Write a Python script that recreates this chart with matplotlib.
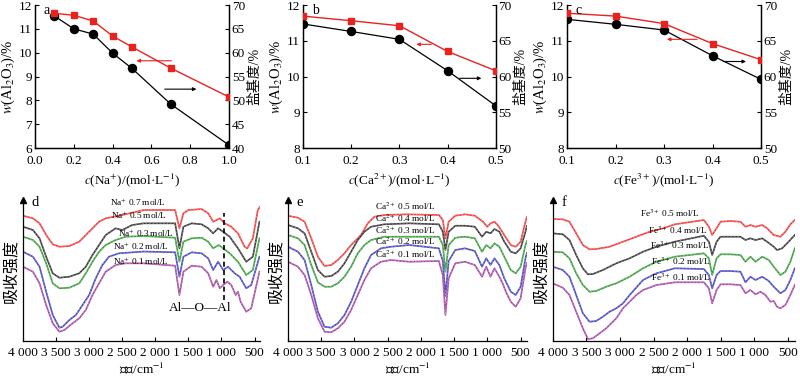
import numpy as np
import matplotlib
matplotlib.use('Agg')
import matplotlib.pyplot as plt

plt.rcParams['font.family'] = ['Liberation Serif', 'Noto Sans CJK SC']
plt.rcParams['mathtext.fontset'] = 'stix'
plt.rcParams['axes.unicode_minus'] = False
plt.rcParams['axes.linewidth'] = 0.9

# ---------------- top row data ----------------
a_c = [0.1, 0.2, 0.3, 0.4, 0.5, 0.7, 1.0]
a_w = [11.65, 11.57, 11.33, 10.70, 10.24, 9.35, 8.14]
a_b = [67.7, 65.0, 63.9, 59.9, 56.7, 49.2, 40.6]

b_c = [0.1, 0.2, 0.3, 0.4, 0.5]
b_w = [11.69, 11.56, 11.42, 10.70, 10.16]
b_b = [67.35, 66.3, 65.2, 60.8, 55.9]

c_c = [0.1, 0.2, 0.3, 0.4, 0.5]
c_w = [11.77, 11.69, 11.48, 10.92, 10.47]
c_b = [68.0, 67.3, 66.5, 62.9, 59.6]

# ---------------- bottom row data (relative absorbance, arbitrary units) ----------------
d_wn_07 = [4000, 3850, 3750, 3650, 3550, 3450, 3300, 3150, 3050, 2950, 2850, 2750, 2550, 2175,
           1700, 1635, 1575, 1500, 1300, 1200, 1125, 1075, 1025, 950, 850, 750, 650, 610, 525, 450, 420]
d_ab_07 = [125.3, 122.7, 117.7, 106, 96.7, 94.3, 95, 99.3, 106, 112.7, 119.3, 122.7, 125.3, 131,
           131, 112.7, 127.7, 131, 132, 127.7, 119.3, 121, 122.7, 117.7, 114.3, 107.7, 94.3, 92.7, 102.7, 131, 134]
d_wn_05 = [4000, 3850, 3750, 3650, 3550, 3450, 3300, 3150, 3050, 2950, 2850, 2750, 2600, 2500, 2350, 2175,
           1700, 1635, 1575, 1450, 1300, 1200, 1125, 1050, 975, 875, 750, 625, 525, 425]
d_ab_05 = [114.3, 111, 102.7, 84.3, 67.7, 63.3, 64.3, 67.7, 74.3, 86, 96, 106, 112.7, 111, 116, 117.7,
           117.7, 92.7, 114.3, 117.7, 116.7, 112.7, 107.7, 112.7, 109.3, 104.3, 92.7, 79.3, 84.3, 119.3]
d_wn_03 = [4000, 3850, 3750, 3650, 3550, 3450, 3300, 3150, 3050, 2950, 2850, 2750, 2600, 2450, 2175,
           1700, 1635, 1575, 1450, 1300, 1200, 1125, 1040, 975, 875, 750, 625, 525, 425]
d_ab_03 = [104.3, 101, 94.3, 77.7, 57.7, 52.7, 53.3, 57.7, 67.7, 79.3, 89.3, 96, 101, 104.3, 105,
           103.3, 79.3, 99.3, 102.7, 103.3, 99.3, 92.7, 96, 92.7, 87.7, 79.3, 66, 71, 102.7]
d_wn_02 = [4000, 3850, 3750, 3650, 3550, 3450, 3400, 3300, 3200, 3100, 3000, 2900, 2800, 2700, 2550, 2175,
           1700, 1635, 1575, 1450, 1300, 1200, 1125, 1050, 975, 900, 800, 725, 625, 550, 425]
d_ab_02 = [89.3, 84.3, 74.3, 49.3, 26, 13.3, 14.3, 21, 26, 36, 46, 62.7, 76, 84.3, 87.7, 89.5,
           88.7, 64.3, 84.3, 88.7, 87.7, 82.7, 71, 79.3, 71, 74.3, 67.7, 64.3, 52.7, 56, 84.3]
d_wn_01 = [4000, 3850, 3750, 3650, 3550, 3450, 3375, 3250, 3150, 3050, 2950, 2850, 2750, 2600, 2450, 2175,
           1700, 1635, 1575, 1450, 1300, 1200, 1125, 1075, 1025, 975, 910, 850, 785, 750, 710, 625, 550, 425]
d_ab_01 = [74.3, 69.3, 57.7, 36, 17.7, 9.3, 11, 17.7, 22.7, 31, 46, 57.7, 69.3, 76, 77.7, 77.7,
           75.3, 46, 69.3, 75.3, 74.3, 67.7, 54.3, 61, 52.7, 56, 59.3, 56, 46, 49.3, 39.3, 29.3, 32.7, 69.3]

e_wn_05 = [4000, 3850, 3750, 3650, 3550, 3450, 3350, 3250, 3150, 3050, 2950, 2900, 2800, 2700, 2550, 2221,
           1729, 1670, 1631, 1582, 1483, 1336, 1188, 1065, 1001, 952, 893, 844, 745, 647, 573, 499, 426, 405]
e_ab_05 = [125.3, 123.3, 119.3, 102.7, 84.3, 75, 76, 81, 87.7, 96, 102.7, 106, 117.7, 124.3, 126, 126.7,
           126, 121, 102.7, 119.3, 125.3, 126.7, 125.3, 119.3, 114.3, 117.7, 119.3, 116, 106, 96, 94.3, 99.3, 119.3, 124]
e_wn_04 = [4000, 3850, 3750, 3650, 3550, 3450, 3350, 3250, 3150, 3050, 2950, 2850, 2750, 2550, 2175,
           1729, 1670, 1631, 1582, 1483, 1336, 1188, 1080, 1016, 952, 893, 819, 745, 647, 573, 499, 426, 405]
e_ab_04 = [116, 112.7, 107.7, 89.3, 71, 64.3, 65, 69.3, 77.7, 89.3, 101, 109.3, 114.3, 116.7, 117.7,
           116.7, 109.3, 91, 109.3, 115.3, 115.3, 114.3, 104.3, 109.3, 107.7, 112, 109.3, 99.3, 89.3, 87.7, 92.7, 109.3, 115]
e_wn_03 = [4000, 3850, 3750, 3650, 3550, 3450, 3350, 3250, 3150, 3050, 2950, 2850, 2750, 2550, 2175,
           1729, 1670, 1631, 1582, 1483, 1336, 1188, 1080, 1016, 952, 893, 819, 745, 647, 573, 499, 426, 405]
e_ab_03 = [106, 102.7, 96, 76, 58.7, 54.3, 54.3, 57.7, 64.3, 74.3, 87.7, 96, 101, 104.3, 104.3,
           104.3, 96, 69.3, 96, 103.3, 104.3, 102.7, 89.3, 96, 92.7, 97.7, 94.3, 84.3, 71, 67.7, 74.3, 96, 100]
e_wn_02 = [4000, 3850, 3750, 3650, 3550, 3450, 3350, 3250, 3150, 3050, 2950, 2850, 2750, 2600, 2450, 2175,
           1729, 1670, 1631, 1582, 1483, 1336, 1188, 1080, 1016, 952, 893, 819, 745, 647, 573, 499, 426, 405]
e_ab_02 = [94.3, 89.3, 81, 56, 29.3, 14.3, 13.3, 17.7, 26, 39.3, 56, 72.7, 86, 92.7, 94.3, 96,
           92.7, 80, 45, 80, 91, 92.7, 90, 74.3, 82.7, 76, 82.7, 76, 62.7, 49.3, 46, 54.3, 82.7, 88]
e_wn_01 = [4000, 3850, 3750, 3650, 3550, 3450, 3350, 3250, 3150, 3050, 2950, 2850, 2750, 2600, 2450, 2175,
           1729, 1670, 1631, 1582, 1483, 1336, 1188, 1080, 1016, 952, 893, 819, 770, 721, 647, 573, 499, 426, 405]
e_ab_01 = [79.3, 74.3, 66, 46, 22.7, 9.3, 8.7, 12.7, 19.3, 31, 46, 61, 72.7, 79.3, 81, 79.3,
           80, 66, 26, 62.7, 77.7, 79.3, 76, 64.3, 74.3, 64.3, 72.7, 64.3, 57.7, 49.3, 39.3, 34.3, 42.7, 72.7, 78]

f_wn_05 = [4000, 3851, 3752, 3652, 3553, 3453, 3354, 3155, 2956, 2758, 2559, 2360, 2186,
           1752, 1678, 1629, 1564, 1505, 1357, 1208, 1134, 1060, 985, 886, 812, 713, 614, 540, 466, 400]
f_ab_05 = [122, 121.7, 119.3, 107.7, 96, 91.7, 92, 94.3, 99.3, 104.3, 109.3, 112.7, 116.7,
           121, 114.3, 106, 112.7, 119.3, 120, 119.3, 114.3, 116, 114.3, 116, 112.7, 106, 104.3, 109.3, 116.7, 121]
f_wn_04 = [4000, 3851, 3752, 3652, 3553, 3478, 3404, 3255, 3056, 2857, 2658, 2459, 2186,
           1752, 1678, 1629, 1564, 1505, 1357, 1208, 1134, 1060, 985, 886, 812, 713, 664, 589, 515, 400]
f_ab_04 = [107.7, 106.7, 101, 86, 72.7, 66.7, 67, 71, 77.7, 82.7, 89.3, 94.3, 99.3,
           105.3, 99.3, 86, 99.3, 104.3, 104.3, 104.3, 101, 102.7, 101, 102.7, 99.3, 94.3, 91, 92.7, 97.7, 106]
f_wn_03 = [4000, 3851, 3752, 3652, 3553, 3453, 3354, 3205, 3056, 2857, 2658, 2459, 2186,
           1752, 1678, 1629, 1564, 1505, 1357, 1208, 1134, 1060, 985, 886, 787, 713, 614, 540, 466, 400]
f_ab_03 = [89.3, 88.7, 82.7, 67.7, 56, 49.3, 50, 54.3, 57.7, 64.3, 72.7, 79.3, 84.3,
           87.7, 82.7, 66, 82.7, 86.7, 86.7, 86, 79.3, 84.3, 79.3, 84.3, 81, 74.3, 66, 69.3, 79.3, 92.7]
f_wn_02 = [4000, 3851, 3752, 3652, 3553, 3453, 3354, 3255, 3155, 3056, 2956, 2857, 2658, 2459, 2186,
           1752, 1678, 1629, 1564, 1505, 1357, 1208, 1134, 1060, 985, 886, 787, 713, 614, 540, 466, 400]
f_ab_02 = [74.3, 71, 64.3, 46, 27.7, 19.3, 20, 24.3, 29.3, 32.7, 37.7, 46, 61, 67.7, 72.7,
           72, 66, 52.7, 66, 70, 70, 69.3, 58.7, 64.3, 61, 64.3, 60, 54.3, 47.7, 51, 61, 72.7]
f_wn_01 = [4000, 3851, 3752, 3652, 3553, 3478, 3404, 3304, 3205, 3056, 2956, 2857, 2758, 2658, 2459, 2186,
           1752, 1678, 1629, 1564, 1505, 1357, 1208, 1134, 1060, 985, 911, 837, 762, 713, 664, 614, 540, 466, 400]
f_ab_01 = [57.7, 53.3, 46, 29.3, 12.7, 2, 2.7, 7.7, 12.7, 22.7, 32.7, 39.3, 46, 51, 56, 58.7,
           58.7, 52.7, 37.7, 51, 56.7, 56.7, 56, 47.7, 51, 46.7, 49.3, 46, 39.3, 40, 34.3, 32.7, 36, 46, 56]

d_labels = ['Na$^{+}$ 0.7 mol/L', 'Na$^{+}$ 0.5 mol/L', 'Na$^{+}$ 0.3 mol/L', 'Na$^{+}$ 0.2 mol/L', 'Na$^{+}$ 0.1 mol/L']
e_labels = ['Ca$^{2+}$ 0.5 mol/L', 'Ca$^{2+}$ 0.4 mol/L', 'Ca$^{2+}$ 0.3 mol/L', 'Ca$^{2+}$ 0.2 mol/L', 'Ca$^{2+}$ 0.1 mol/L']
f_labels = ['Fe$^{3+}$ 0.5 mol/L', 'Fe$^{3+}$ 0.4 mol/L', 'Fe$^{3+}$ 0.3 mol/L', 'Fe$^{3+}$ 0.2 mol/L', 'Fe$^{3+}$ 0.1 mol/L']
d_label_pos = [(2263, 139), (2250, 126), (2148, 108), (2220, 95), (2220, 80)]
e_label_pos = [(2233, 134.5), (2233, 122.5), (2233, 111), (2233, 99.3), (2233, 87)]
f_label_pos = [(2256, 128), (2136, 110.3), (2114, 96), (2100, 79.3), (2100, 64)]
d_al_o_al_wn = 960

ir_ticks = [4000, 3500, 3000, 2500, 2000, 1500, 1000, 500]
ir_ticklabels = ['4 000', '3 500', '3 000', '2 500', '2 000', '1 500', '1 000', '500']
ir_colors = ['#f23c3c', '#3a3a3a', '#3a9e3a', '#4848c0', '#a648a6']

fig = plt.figure(figsize=(8, 3.8), dpi=100)

RED = '#e8221f'


def top_panel(rect, x, w, b, xlim, xticks, xfmt, ylim_l, ylim_r, yticks_l, yticks_r,
              letter, xlabel, red_arrow, blk_arrow):
    ax = fig.add_axes(rect)
    ax2 = ax.twinx()
    ax.plot(x, w, color=RED, marker='s', ms=4.2, lw=1.0, zorder=3)
    ax2.plot(x, b, color='black', marker='o', ms=5.8, lw=0.9)
    ax.set_zorder(ax2.get_zorder() + 1)
    ax.patch.set_visible(False)
    ax.set_xlim(*xlim)
    ax.set_ylim(*ylim_l)
    ax2.set_ylim(*ylim_r)
    ax.set_xticks(xticks)
    ax.set_xticklabels([xfmt % v for v in xticks])
    ax.set_yticks(yticks_l)
    ax2.set_yticks(yticks_r)
    for a_ in (ax, ax2):
        a_.spines['top'].set_visible(False)
        a_.tick_params(direction='in', length=3, width=0.8, labelsize=9.5, pad=2)
    ax.tick_params(axis='x', pad=5)
    ax.set_ylabel(r'$w$(Al$_2$O$_3$)/%', fontsize=10.5, labelpad=1)
    ax2.set_ylabel('盐基度/%', fontsize=10, labelpad=2)
    ax.set_xlabel(xlabel, fontsize=9.5, labelpad=3)
    ax.text(0.045, 1.005, letter, transform=ax.transAxes, fontsize=10, va='top', ha='left')
    ax.annotate('', xy=(red_arrow[1], red_arrow[2]), xytext=(red_arrow[0], red_arrow[2]),
                arrowprops=dict(arrowstyle='-|>', color=RED, lw=0.8, mutation_scale=5,
                                shrinkA=0, shrinkB=0))
    ax.annotate('', xy=(blk_arrow[1], blk_arrow[2]), xytext=(blk_arrow[0], blk_arrow[2]),
                arrowprops=dict(arrowstyle='-|>', color='black', lw=0.8, mutation_scale=5,
                                shrinkA=0, shrinkB=0))
    return ax


top_panel([0.04375, 0.6105, 0.2425, 0.3763], a_c, a_w, a_b, (0.0, 1.0),
          [0.0, 0.2, 0.4, 0.6, 0.8, 1.0], '%.1f', (6, 12), (40, 70),
          range(6, 13), range(40, 71, 5), 'a', r'$c$(Na$^{+}$)/(mol·L$^{-1}$)',
          (0.703, 0.523, 9.66), (0.669, 0.832, 8.47))
top_panel([0.3788, 0.6105, 0.241, 0.3763], b_c, b_w, b_b, (0.1, 0.5),
          [0.1, 0.2, 0.3, 0.4, 0.5], '%.1f', (8, 12), (50, 70),
          range(8, 13), range(50, 71, 5), 'b', r'$c$(Ca$^{2+}$)/(mol·L$^{-1}$)',
          (0.366, 0.335, 10.90), (0.425, 0.47, 9.95))
top_panel([0.7088, 0.6105, 0.2425, 0.3763], c_c, c_w, c_b, (0.1, 0.5),
          [0.1, 0.2, 0.3, 0.4, 0.5], '%.1f', (8, 12), (50, 70),
          range(8, 13), range(50, 71, 5), 'c', r'$c$(Fe$^{3+}$)/(mol·L$^{-1}$)',
          (0.368, 0.306, 11.04), (0.422, 0.469, 10.42))


def ir_panel(rect, curves, labels, label_pos, xright, letter):
    ax = fig.add_axes(rect)
    for (wn, ab), col in zip(curves, ir_colors):
        ax.plot(wn, ab, color=col, lw=1.2, solid_joinstyle='round')
        ax.plot(wn, ab, color='white', lw=0.5, ls=(0, (2.5, 2.5)), alpha=0.45)
    for lab, (xx, yy) in zip(labels, label_pos):
        ax.text(xx, yy, lab, fontsize=6.7, ha='center', va='center')
    ax.set_xlim(4000, xright)
    ax.set_ylim(0, 141)
    ax.set_yticks([])
    ax.spines['top'].set_visible(False)
    ax.spines['right'].set_visible(False)
    ax.set_xticks(ir_ticks)
    ax.set_xticklabels(ir_ticklabels)
    ax.tick_params(axis='x', direction='in', length=3, width=0.8, labelsize=9.5, pad=4)
    ax.plot([0], [1.0], marker='^', color='black', ms=5, transform=ax.transAxes, clip_on=False)
    ax.set_ylabel('吸收强度', fontsize=11.5, labelpad=2)
    ax.set_xlabel('波数/cm$^{-1}$', fontsize=9.5, labelpad=2)
    ax.text(0.035, 0.985, letter, transform=ax.transAxes, fontsize=10.5, va='center', ha='left')
    return ax


axd = ir_panel([0.02875, 0.1026, 0.296, 0.371],
               [(d_wn_07, d_ab_07), (d_wn_05, d_ab_05), (d_wn_03, d_ab_03), (d_wn_02, d_ab_02), (d_wn_01, d_ab_01)],
               d_labels, d_label_pos, 420, 'd')
axd.plot([d_al_o_al_wn, d_al_o_al_wn], [41, 128], color='black', lw=1.2, ls=(0, (3, 2)))
axd.text(1315, 33, 'Al—O—Al', fontsize=9.5, ha='center', va='center')

ir_panel([0.36, 0.1026, 0.299, 0.371],
         [(e_wn_05, e_ab_05), (e_wn_04, e_ab_04), (e_wn_03, e_ab_03), (e_wn_02, e_ab_02), (e_wn_01, e_ab_01)],
         e_labels, e_label_pos, 400, 'e')
ir_panel([0.691, 0.1026, 0.3025, 0.371],
         [(f_wn_05, f_ab_05), (f_wn_04, f_ab_04), (f_wn_03, f_ab_03), (f_wn_02, f_ab_02), (f_wn_01, f_ab_01)],
         f_labels, f_label_pos, 400, 'f')

fig.savefig('out.png', dpi=100)
